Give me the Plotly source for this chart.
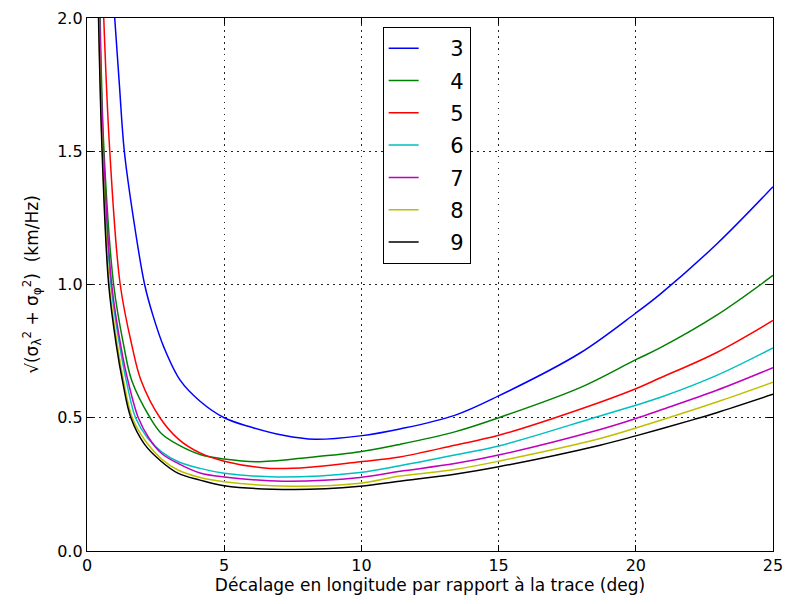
import plotly.graph_objects as go

# Courbes (x : décalage en degrés, y : km/Hz)
x3 = [1.01, 1.18, 1.36, 1.69, 2.1, 2.4, 2.8, 3.4, 4.12, 5.0, 5.94, 7.15, 8.3, 9.95, 11.4, 13.4, 15.0, 17.97, 20.0, 20.88, 22.95, 25.0]
y3 = [2.0, 1.75, 1.5, 1.25, 1.0, 0.885, 0.765, 0.64, 0.562, 0.5, 0.466, 0.434, 0.419, 0.432, 0.458, 0.509, 0.582, 0.743, 0.893, 0.963, 1.152, 1.367]

x4 = [0.48, 0.62, 0.97, 1.35, 1.63, 2.3, 2.72, 3.33, 4.12, 5.0, 6.2, 8.0, 9.95, 11.4, 13.4, 15.0, 17.97, 20.0, 20.88, 22.95, 25.0]
y4 = [2.0, 1.5, 1.0, 0.765, 0.64, 0.5, 0.44, 0.398, 0.362, 0.345, 0.335, 0.35, 0.372, 0.40, 0.447, 0.5, 0.613, 0.718, 0.762, 0.885, 1.034]

x5 = [0.61, 0.83, 1.21, 1.65, 1.97, 2.66, 3.33, 4.12, 5.0, 6.67, 8.3, 9.95, 11.4, 13.4, 15.0, 17.97, 20.0, 20.88, 22.95, 25.0]
y5 = [2.0, 1.5, 1.0, 0.765, 0.64, 0.5, 0.42, 0.368, 0.337, 0.31, 0.316, 0.335, 0.353, 0.397, 0.434, 0.532, 0.609, 0.649, 0.745, 0.865]

x6 = [0.45, 0.58, 0.87, 1.2, 1.43, 1.77, 2.2, 2.72, 3.33, 4.12, 5.0, 6.9, 9.95, 11.4, 13.4, 15.0, 18.57, 20.0, 20.88, 22.95, 25.0]
y6 = [2.0, 1.5, 1.0, 0.765, 0.64, 0.5, 0.425, 0.372, 0.335, 0.31, 0.292, 0.278, 0.295, 0.32, 0.36, 0.394, 0.503, 0.547, 0.576, 0.659, 0.762]

x7 = [0.46, 0.60, 0.90, 1.24, 1.49, 1.87, 2.25, 2.72, 3.33, 4.12, 5.0, 7.15, 9.95, 11.4, 13.4, 15.0, 18.7, 20.0, 20.88, 22.95, 25.0]
y7 = [2.0, 1.5, 1.0, 0.765, 0.64, 0.5, 0.425, 0.366, 0.328, 0.293, 0.278, 0.262, 0.276, 0.299, 0.328, 0.36, 0.456, 0.497, 0.528, 0.603, 0.688]

x8 = [0.43, 0.56, 0.81, 1.12, 1.33, 1.65, 2.15, 2.72, 3.33, 4.12, 5.0, 7.4, 9.95, 11.4, 13.4, 15.0, 18.7, 20.88, 22.95, 25.0]
y8 = [2.0, 1.5, 1.0, 0.765, 0.64, 0.5, 0.41, 0.345, 0.303, 0.276, 0.26, 0.243, 0.254, 0.281, 0.306, 0.337, 0.422, 0.49, 0.559, 0.633]

x9 = [0.42, 0.55, 0.79, 1.08, 1.29, 1.60, 2.1, 2.72, 3.33, 4.12, 5.0, 7.5, 9.95, 11.4, 13.4, 15.0, 18.7, 20.0, 22.1, 22.95, 25.0]
y9 = [2.0, 1.5, 1.0, 0.765, 0.64, 0.5, 0.40, 0.335, 0.291, 0.266, 0.245, 0.231, 0.243, 0.262, 0.288, 0.316, 0.397, 0.432, 0.493, 0.519, 0.588]

names = ["3", "4", "5", "6", "7", "8", "9"]
xs = [x3, x4, x5, x6, x7, x8, x9]
ys = [y3, y4, y5, y6, y7, y8, y9]
colors = ["#0000ff", "#008000", "#ff0000", "#00bfbf", "#bf00bf", "#bfbf00", "#000000"]

x_ticks = [0, 5, 10, 15, 20, 25]
y_ticks = [0.0, 0.5, 1.0, 1.5, 2.0]

fig = go.Figure()
for name, xv, yv, c in zip(names, xs, ys, colors):
    fig.add_trace(go.Scatter(
        x=xv, y=yv, mode="lines", name="\u00a0\u00a0\u00a0\u00a0" + name, legendgroup=name,
        line=dict(color=c, width=1.5, shape="spline", smoothing=1.0),
    ))

font = "DejaVu Sans, Liberation Sans, sans-serif"
axis_common = dict(
    showline=True, linecolor="black", linewidth=1.3, mirror="ticks",
    ticks="inside", ticklen=6, tickwidth=1, tickcolor="black",
    showgrid=True, gridcolor="#222222", gridwidth=1, griddash="1.5px,4.5px",
    zeroline=False, automargin=False,
    tickfont=dict(family=font, size=16, color="black"),
)

fig.update_layout(
    width=787, height=604,
    margin=dict(l=87, r=14, t=18, b=53, autoexpand=False),
    paper_bgcolor="white", plot_bgcolor="white",
    font=dict(family=font, color="black"),
    showlegend=True,
    legend=dict(
        x=0.431, y=0.983, xanchor="left", yanchor="top",
        bgcolor="white", bordercolor="black", borderwidth=1,
        font=dict(family=font, size=21, color="black"),
        tracegroupgap=2, itemwidth=30,
    ),
    xaxis=dict(
        range=[0, 25], tickvals=x_ticks, ticktext=[str(v) for v in x_ticks],
        title=dict(text="Décalage en longitude par rapport à la trace (deg)",
                   font=dict(family=font, size=17, color="black"), standoff=4),
        **axis_common,
    ),
    yaxis=dict(
        range=[0, 2.0], tickvals=y_ticks, ticktext=[f"{v:.1f}" for v in y_ticks],
        title=dict(text="√(σ<sub>λ</sub><sup>2</sup> + σ<sub>φ</sub><sup>2</sup>)  (km/Hz)",
                   font=dict(family=font, size=17, color="black"), standoff=14),
        **axis_common,
    ),
)

fig.write_html(
    "out.html",
    config={"displayModeBar": False},
    post_script="document.body.style.margin='0';document.body.style.overflow='hidden';",
)
